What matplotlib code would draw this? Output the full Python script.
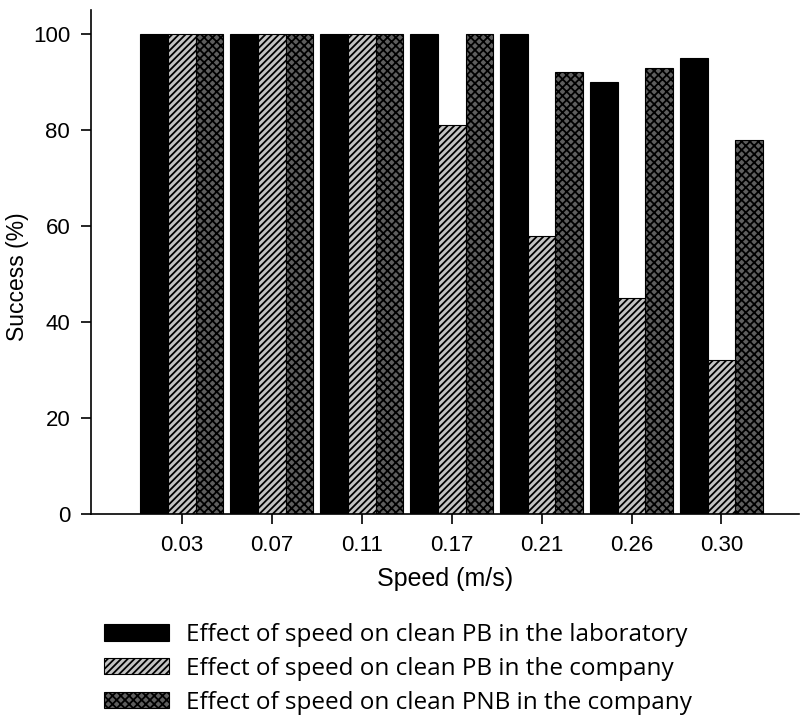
import matplotlib
matplotlib.use('Agg')
import matplotlib.pyplot as plt
import numpy as np

# Data
speeds = ['0.03', '0.07', '0.11', '0.17', '0.21', '0.26', '0.30']
lab_pb = [100, 100, 100, 100, 100, 90, 95]
company_pb = [100, 100, 100, 81, 58, 45, 32]
company_pnb = [100, 100, 100, 100, 92, 93, 78]
labels = ['Effect of speed on clean PB in the laboratory',
          'Effect of speed on clean PB in the company',
          'Effect of speed on clean PNB in the company']

plt.rcParams['font.family'] = ['Liberation Sans', 'DejaVu Sans']
plt.rcParams['hatch.linewidth'] = 1.3

fig = plt.figure(figsize=(8.02, 7.17), dpi=100)
ax = fig.add_axes([0.1135, 0.283, 0.8825, 0.703])

x = np.arange(len(speeds))
w = 0.308
b1 = ax.bar(x - w, lab_pb, w, color='black', edgecolor='black', linewidth=0.8, label=labels[0])
b2 = ax.bar(x, company_pb, w, color='#c4c4c4', edgecolor='black', linewidth=0.8,
            hatch='/////', label=labels[1])
b3 = ax.bar(x + w, company_pnb, w, color='#5e5e5e', edgecolor='black', linewidth=0.8,
            hatch='xxxx', label=labels[2])

ax.set_xlim(-1.01, 6.86)
ax.set_ylim(0, 105)
ax.set_xticks(x)
ax.set_xticklabels(speeds)
ax.set_yticks([0, 20, 40, 60, 80, 100])
ax.tick_params(direction='out', length=7, width=1.2, labelsize=16, pad=8)
ax.spines['top'].set_visible(False)
ax.spines['right'].set_visible(False)
for s in ['left', 'bottom']:
    ax.spines[s].set_linewidth(1.2)

ax.set_xlabel('Speed (m/s)', fontsize=18, labelpad=8)
ax.set_ylabel('Success (%)', fontsize=16.5, labelpad=3)
ax.yaxis.set_label_coords(-0.088, 0.47)

fig.legend(handles=[b1, b2, b3], loc='upper left', bbox_to_anchor=(0.13, 0.131),
           frameon=False, handlelength=2.65, handleheight=0.64,
           handletextpad=0.72, labelspacing=0.4, borderaxespad=0, borderpad=0,
           prop={'family': ['Open Sans', 'DejaVu Sans'], 'size': 17.5})

fig.savefig('out.png', dpi=100)
